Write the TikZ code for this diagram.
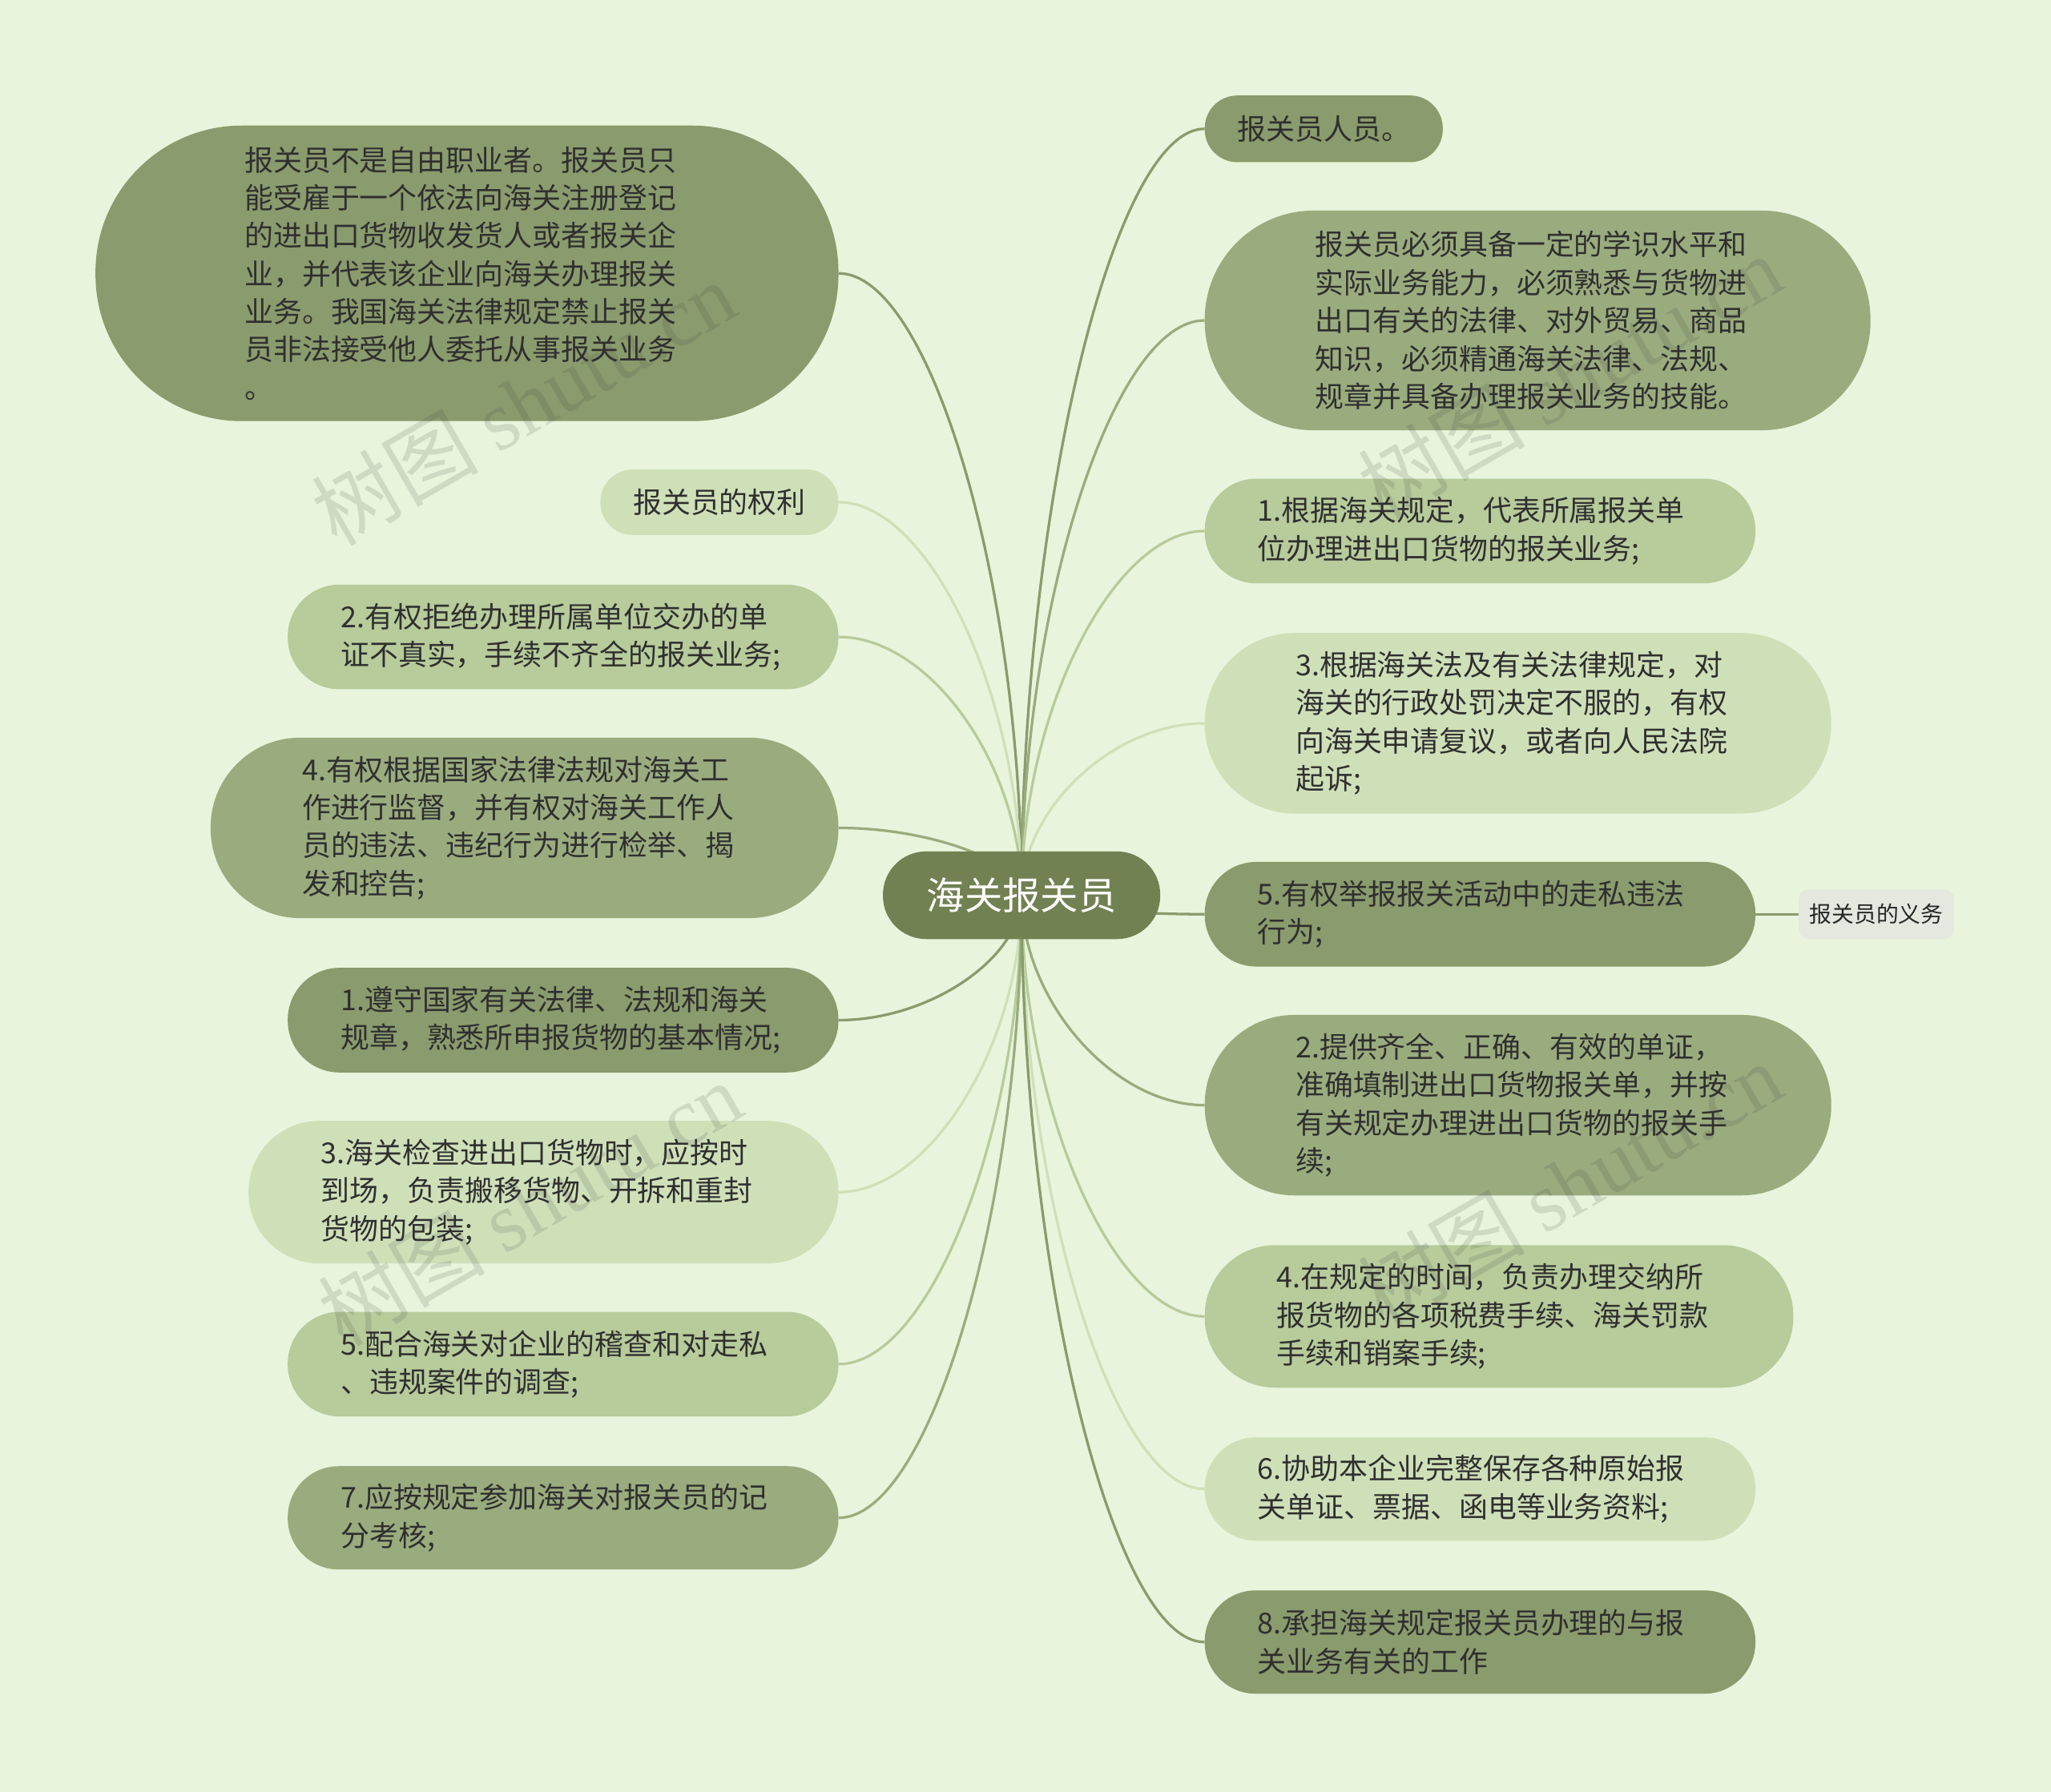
\documentclass[tikz,border=0pt]{standalone}
\usepackage{fontspec}
\setmainfont{Noto Sans CJK SC}
\newfontfamily\wmlatin{Liberation Serif}
\usetikzlibrary{calc}
\pgfdeclarelayer{back}
\pgfdeclarelayer{bg}
\pgfsetlayers{back,bg,main}
\definecolor{bgc}{HTML}{E8F5DC}
\definecolor{cA}{HTML}{8A9B6D}
\definecolor{cB}{HTML}{9AAC7E}
\definecolor{cC}{HTML}{B7CB9B}
\definecolor{cD}{HTML}{CFE0B9}
\definecolor{cCenter}{HTML}{718152}
\definecolor{cChild}{HTML}{E4E8DE}
\definecolor{txt}{HTML}{2F2F2F}
\begin{document}
\begin{tikzpicture}[x=1pt,y=-1pt,
  nd/.style={rectangle, draw=none, text=txt, align=left, inner ysep=0pt,
    font=\fontsize{22pt}{29pt}\selectfont},
  multi/.style={nd, text width=340pt},
  con/.style={line width=2pt, draw=#1},
  wm/.style={text=black!75, opacity=0.15, rotate=30,
    font=\fontsize{64pt}{64pt}\selectfont}]
\begin{pgfonlayer}{back}
\path[use as bounding box, fill=bgc] (0,0) rectangle (1568,1370);
\end{pgfonlayer}

% centre
\node[rectangle, fill=cCenter, minimum width=212pt, minimum height=67pt,
  rounded corners=33pt, text=white, font=\fontsize{29pt}{29pt}\selectfont]
  (C) at (781,684.5) {海关报关员};

% left side
\node[multi, fill=cA, minimum width=568pt, minimum height=226pt, rounded corners=112pt, inner xsep=114pt]
  (L1) at (357,209) {报关员不是自由职业者。报关员只\\能受雇于一个依法向海关注册登记\\的进出口货物收发货人或者报关企\\业，并代表该企业向海关办理报关\\业务。我国海关法律规定禁止报关\\员非法接受他人委托从事报关业务\\。};
\node[nd, fill=cD, minimum width=182pt, minimum height=50pt, rounded corners=24.5pt]
  (L2) at (550,384) {报关员的权利};
\node[multi, fill=cC, minimum width=421pt, minimum height=80pt, rounded corners=39.5pt, inner xsep=40.5pt]
  (L3) at (430.5,487) {2.有权拒绝办理所属单位交办的单\\证不真实，手续不齐全的报关业务;};
\node[multi, fill=cB, minimum width=480pt, minimum height=138pt, rounded corners=68.5pt, inner xsep=70pt]
  (L4) at (401,633) {4.有权根据国家法律法规对海关工\\作进行监督，并有权对海关工作人\\员的违法、违纪行为进行检举、揭\\发和控告;};
\node[multi, fill=cA, minimum width=421pt, minimum height=80pt, rounded corners=39.5pt, inner xsep=40.5pt]
  (L5) at (430.5,780) {1.遵守国家有关法律、法规和海关\\规章，熟悉所申报货物的基本情况;};
\node[multi, fill=cD, minimum width=451pt, minimum height=109pt, rounded corners=54pt, inner xsep=55.5pt]
  (L6) at (415.5,911.5) {3.海关检查进出口货物时，应按时\\到场，负责搬移货物、开拆和重封\\货物的包装;};
\node[multi, fill=cC, minimum width=421pt, minimum height=80pt, rounded corners=39.5pt, inner xsep=40.5pt]
  (L7) at (430.5,1043) {5.配合海关对企业的稽查和对走私\\、违规案件的调查;};
\node[multi, fill=cB, minimum width=421pt, minimum height=79pt, rounded corners=39pt, inner xsep=40.5pt]
  (L8) at (430.5,1160.5) {7.应按规定参加海关对报关员的记\\分考核;};

% right side
\node[nd, fill=cA, minimum width=182pt, minimum height=51pt, rounded corners=25pt]
  (R1) at (1012,98.5) {报关员人员。};
\node[multi, fill=cB, minimum width=509pt, minimum height=168pt, rounded corners=83.5pt, inner xsep=84.5pt]
  (R2) at (1175.5,245) {报关员必须具备一定的学识水平和\\实际业务能力，必须熟悉与货物进\\出口有关的法律、对外贸易、商品\\知识，必须精通海关法律、法规、\\规章并具备办理报关业务的技能。};
\node[multi, fill=cC, minimum width=421pt, minimum height=80pt, rounded corners=39.5pt, inner xsep=40.5pt]
  (R3) at (1131.5,406) {1.根据海关规定，代表所属报关单\\位办理进出口货物的报关业务;};
\node[multi, fill=cD, minimum width=479pt, minimum height=138pt, rounded corners=68.5pt, inner xsep=69.5pt]
  (R4) at (1160.5,553) {3.根据海关法及有关法律规定，对\\海关的行政处罚决定不服的，有权\\向海关申请复议，或者向人民法院\\起诉;};
\node[multi, fill=cA, minimum width=421pt, minimum height=80pt, rounded corners=39.5pt, inner xsep=40.5pt]
  (R5) at (1131.5,699) {5.有权举报报关活动中的走私违法\\行为;};
\node[multi, fill=cB, minimum width=479pt, minimum height=138pt, rounded corners=68.5pt, inner xsep=69.5pt]
  (R6) at (1160.5,845) {2.提供齐全、正确、有效的单证，\\准确填制进出口货物报关单，并按\\有关规定办理进出口货物的报关手\\续;};
\node[multi, fill=cC, minimum width=450pt, minimum height=109pt, rounded corners=54pt, inner xsep=55pt]
  (R7) at (1146,1006.5) {4.在规定的时间，负责办理交纳所\\报货物的各项税费手续、海关罚款\\手续和销案手续;};
\node[multi, fill=cD, minimum width=421pt, minimum height=79pt, rounded corners=39pt, inner xsep=40.5pt]
  (R8) at (1131.5,1138.5) {6.协助本企业完整保存各种原始报\\关单证、票据、函电等业务资料;};
\node[multi, fill=cA, minimum width=421pt, minimum height=79pt, rounded corners=39pt, inner xsep=40.5pt]
  (R9) at (1131.5,1255.5) {8.承担海关规定报关员办理的与报\\关业务有关的工作};

% child of R5
\node[rectangle, fill=cChild, minimum width=119pt, minimum height=38pt, rounded corners=8pt,
  text=black!85, font=\fontsize{17pt}{17pt}\selectfont]
  (K) at (1434.5,699) {报关员的义务};

% connectors
\begin{pgfonlayer}{bg}
\foreach \n/\c in {L1/cA,L2/cD,L3/cC,L4/cB,L5/cA,L6/cD,L7/cC,L8/cB}
  \draw[con=\c] (C.center) .. controls ($(C.center)!0.5!(C.center |- \n.east)$)
    and ($(C.center |- \n.east)!0.5!(\n.east)$) .. (\n.east);
\foreach \n/\c in {R1/cA,R2/cB,R3/cC,R4/cD,R5/cA,R6/cB,R7/cC,R8/cD,R9/cA}
  \draw[con=\c] (C.center) .. controls ($(C.center)!0.5!(C.center |- \n.west)$)
    and ($(C.center |- \n.west)!0.5!(\n.west)$) .. (\n.west);
\draw[con=cA] (R5.east) -- (K.west);
\end{pgfonlayer}

% watermarks
\node[wm] (W1) at (400,308) {树图 {\wmlatin shutu.cn}};
\node[wm] (W2) at (1200,288) {树图 {\wmlatin shutu.cn}};
\node[wm] (W3) at (405,920) {树图 {\wmlatin shutu.cn}};
\node[wm] (W4) at (1200,905) {树图 {\wmlatin shutu.cn}};
\end{tikzpicture}
\end{document}
